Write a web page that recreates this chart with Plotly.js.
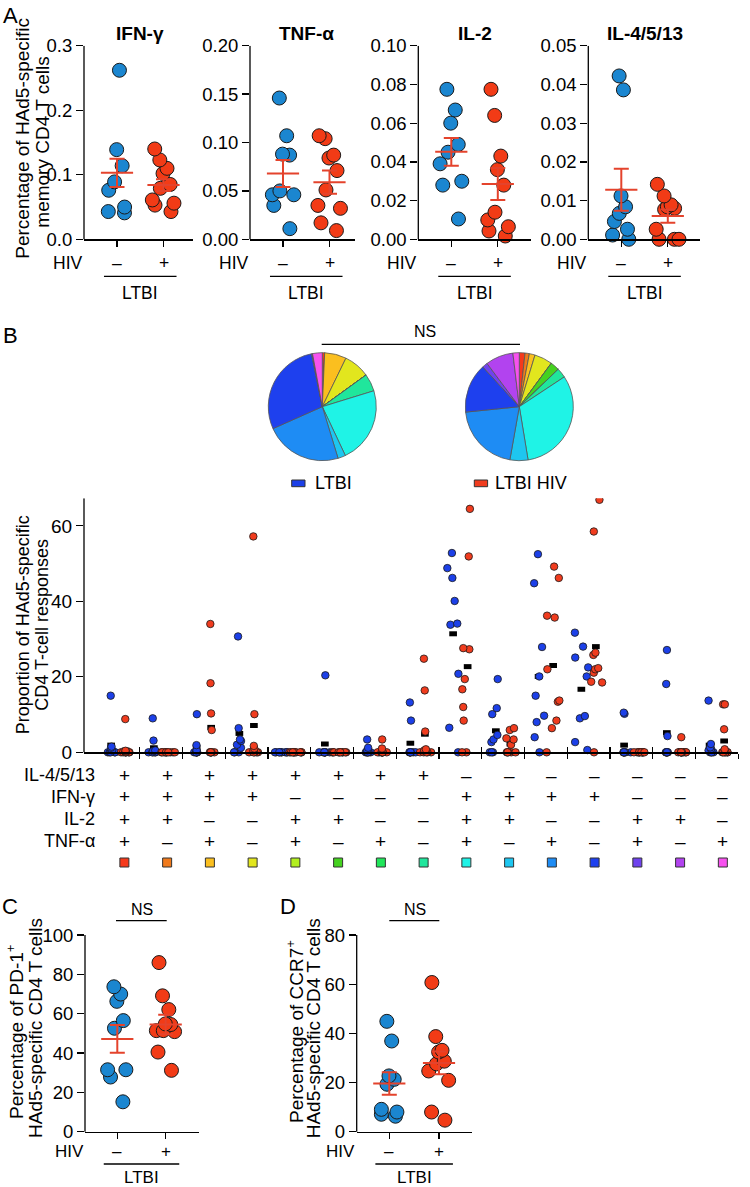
<!DOCTYPE html>
<html><head><meta charset="utf-8">
<script src="https://cdn.plot.ly/plotly-3.0.1.min.js"></script>
<style>html,body{margin:0;padding:0;background:#fff}#chart{width:750px;height:1187px}</style>
</head><body><div id="chart"></div>
<script>
// ================= DATA =================
const groupLabels = ['–', '+'];
const cytokines = ['IFN-γ', 'TNF-α', 'IL-2', 'IL-4/5/13'];

// Panel A (percentage of HAd5-specific memory CD4 T cells)
const ifnNeg = [0.262, 0.139, 0.114, 0.089, 0.076, 0.050, 0.041, 0.043];
const ifnPos = [0.140, 0.123, 0.110, 0.102, 0.085, 0.079, 0.061, 0.056, 0.053, 0.043];
const ifnMean = [0.103, 0.084];
const ifnSem = [0.022, 0.009];

const tnfNeg = [0.146, 0.107, 0.087, 0.088, 0.050, 0.046, 0.046, 0.035, 0.011];
const tnfPos = [0.107, 0.104, 0.087, 0.084, 0.071, 0.051, 0.035, 0.032, 0.017, 0.009];
const tnfMean = [0.068, 0.059];
const tnfSem = [0.014, 0.012];

const il2Neg = [0.0775, 0.0668, 0.060, 0.049, 0.045, 0.039, 0.030, 0.028, 0.0105];
const il2Pos = [0.0775, 0.064, 0.043, 0.036, 0.028, 0.014, 0.010, 0.0065, 0.0043, 0.0017];
const il2Mean = [0.0452, 0.0286];
const il2Sem = [0.0072, 0.0083];

const il4Neg = [0.0422, 0.0386, 0.0112, 0.0084, 0.0067, 0.0046, 0.0026, 0.0011, 0.0];
const il4Pos = [0.0142, 0.0112, 0.0089, 0.0084, 0.0080, 0.0077, 0.0026, 0, 0, 0];
const il4Mean = [0.0128, 0.0060];
const il4Sem = [0.0054, 0.0017];

// Panel B: cytokine combinations (1 = +, 0 = –)
const rowNames = ['IL-4/5/13', 'IFN-γ', 'IL-2', 'TNF-α'];
const il4Row = [1,1,1,1,1,1,1,1,0,0,0,0,0,0,0];
const ifnRow = [1,1,1,1,0,0,0,0,1,1,1,1,0,0,0];
const il2Row = [1,1,0,0,1,1,0,0,1,1,0,0,1,1,0];
const tnfRow = [1,0,1,0,1,0,1,0,1,0,1,0,1,0,1];
const comboColors = ['#f5391b','#f07a1c','#fbbf1f','#e2e61e','#b2ef1f','#45d220','#20e65a','#20e69c',
                     '#1ff3e6','#1ec6f0','#1e8cf4','#1e40ee','#6f42ee','#b243ef','#f752ef'];

const ltbiB = [
  [15.0, 1.5, 1.2, 0.5, 0, 0, 0, 0, 0],
  [9.0, 3.1, 0.5, 0.3, 0, 0, 0, 0, 0],
  [10.1, 1.9, 0.5, 0, 0, 0, 0, 0, 0],
  [30.7, 6.4, 3.4, 3.0, 2.0, 1.2, 0, 0, 0],
  [0, 0, 0, 0, 0, 0, 0, 0, 0],
  [20.4, 0, 0, 0, 0, 0, 0, 0, 0],
  [3.4, 1.2, 0.5, 0, 0, 0, 0, 0, 0],
  [13.2, 8.4, 0, 0, 0, 0, 0, 0, 0],
  [52.8, 48.8, 46.2, 40.1, 34.1, 33.8, 20.8, 6.5, 0],
  [19.4, 11.7, 10.1, 4.6, 3.4, 2.7, 0, 0, 0],
  [52.5, 44.8, 27.9, 20.1, 15.0, 9.7, 8.0, 4.0, 0],
  [31.7, 28.0, 25.1, 22.5, 20.1, 9.6, 9.0, 2.7, 0.6],
  [10.5, 10.2, 0, 0, 0, 0, 0, 0, 0],
  [27.1, 18.1, 4.3, 0, 0, 0, 0, 0, 0],
  [13.7, 2.2, 1.3, 0.9, 0.5, 0, 0, 0, 0]
];
const hivB = [
  [8.8, 0.4, 0.2, 0, 0, 0, 0, 0, 0, 0],
  [0, 0, 0, 0, 0, 0, 0, 0, 0, 0],
  [34.0, 18.3, 10.3, 5.9, 0, 0, 0, 0, 0, 0],
  [57.2, 10.1, 1.7, 1.0, 0.5, 0, 0, 0, 0, 0],
  [0, 0, 0, 0, 0, 0, 0, 0, 0, 0],
  [0, 0, 0, 0, 0, 0, 0, 0, 0, 0],
  [3.4, 1.0, 0, 0, 0, 0, 0, 0, 0, 0],
  [24.8, 16.4, 5.5, 0.8, 0.5, 0, 0, 0, 0, 0],
  [64.5, 51.9, 27.6, 27.3, 19.4, 16.7, 12.0, 8.4, 0, 0],
  [6.4, 5.9, 3.7, 3.4, 2.0, 0, 0, 0, 0, 0],
  [49.2, 46.2, 36.2, 35.7, 22.0, 13.7, 13.4, 8.4, 6.4, 0],
  [66.9, 58.5, 26.4, 25.8, 22.3, 22.0, 21.1, 18.7, 18.5, 0],
  [0, 0, 0, 0, 0, 0, 0, 0, 0, 0],
  [4.0, 0, 0, 0, 0, 0, 0, 0, 0, 0],
  [12.7, 12.7, 6.1, 0.8, 0, 0, 0, 0, 0, 0]
];
const ltbiBMean = [1.9, 1.2, 1.2, 5.0, 0, 2.2, 0.3, 2.4, 31.4, 5.7, 20.1, 16.7, 1.9, 5.2, 1.9];
const hivBMean  = [0.6, 0, 6.6, 7.1, 0, 0, 0.4, 4.8, 22.7, 2.2, 23.0, 28.0, 0, 0.4, 3.0];

// Pie fractions (%)
const ltbiPie = [0.7, 0, 6.5, 7.8, 0, 0, 0, 5.2, 22.7, 2.3, 23.0, 28.4, 0.3, 0, 2.9];
const hivPie  = [1.7, 1.3, 1.7, 5.4, 0, 2.7, 0, 2.9, 31.7, 5.4, 20.6, 14.8, 1.6, 8.3, 1.9];
const pieNames = ['LTBI', 'LTBI HIV'];

// Panel C (PD-1+) and D (CCR7+)
const pd1Neg = [73.7, 70.0, 66.3, 56.5, 52.6, 31.5, 31.5, 27.8, 15.2];
const pd1Pos = [86.0, 69.1, 62.1, 54.8, 54.5, 51.4, 50.9, 51.4, 40.5, 31.2];
const pd1Mean = [47.2, 54.5];
const pd1Sem = [7.0, 5.0];

const ccr7Neg = [44.9, 36.9, 22.7, 21.3, 19.3, 9.1, 8.0, 7.1, 6.3];
const ccr7Pos = [60.7, 38.7, 33.1, 32.4, 28.7, 27.6, 24.7, 20.9, 8.0, 4.7];
const ccr7Mean = [19.6, 28.0];
const ccr7Sem = [4.6, 4.6];

// ================= DRAWING =================
const W = 750, H = 1187;
const fx = p => p / W;
const fy = p => 1 - p / H;
const FONT = 'Liberation Sans, Arial, Helvetica, sans-serif';
const BLUE_A = '#1b86d0', RED_A = '#f23b16', BLUE_B = '#1c40e8', RED_B = '#f03c1e', ERR = '#e4432c';

const traces = [], shapes = [], annotations = [];
const layout = {
  width: W, height: H, margin: {l: 0, r: 0, t: 0, b: 0},
  paper_bgcolor: '#ffffff', plot_bgcolor: 'rgba(0,0,0,0)', showlegend: false,
  font: {family: FONT, size: 18, color: '#000'}, hovermode: false
};

function txt(x, y, text, size, opts) {
  annotations.push(Object.assign({
    x: x, y: y, xref: 'paper', yref: 'paper', text: text, showarrow: false,
    font: {family: FONT, size: size, color: '#000'}, xanchor: 'center', yanchor: 'middle'
  }, opts || {}));
}
function pline(x0, x1, y, w) {
  shapes.push({type: 'line', xref: 'paper', yref: 'paper', x0: fx(x0), x1: fx(x1), y0: fy(y), y1: fy(y),
    line: {color: '#000', width: w || 1.3}});
}
function axId(n) { return n === 1 ? '' : String(n); }

function dotPanel(n, cfg, neg, pos, mean, sem) {
  const id = axId(n), xs = 'x' + id, ys = 'y' + id;
  const ppu = (cfg.zero - cfg.top) / cfg.ymax;
  const xmin = -cfg.cat0 / cfg.catStep;
  const xmax = (cfg.right - cfg.left - cfg.cat0) / cfg.catStep;
  const tv = [];
  for (let k = 0; k * cfg.dtick <= cfg.ymax * 1.0001; k++) tv.push(+(k * cfg.dtick).toFixed(6));
  layout['xaxis' + id] = {
    type: 'linear', domain: [fx(cfg.left), fx(cfg.right)], range: [xmin, xmax],
    anchor: 'free', position: fy(cfg.zero), showline: true, linecolor: '#000', linewidth: 1.3,
    ticks: 'outside', ticklen: 6, tickwidth: 1.3, tickcolor: '#000', tickmode: 'array', tickvals: [0, 1],
    showticklabels: false, showgrid: false, zeroline: false, fixedrange: true
  };
  layout['yaxis' + id] = {
    type: 'linear', domain: [fy(cfg.zero + cfg.below), fy(cfg.top)],
    range: [-cfg.below / ppu, cfg.ymax * 1.0003], anchor: xs, showline: false,
    ticks: 'outside', ticklen: 7, tickwidth: 1.3, tickcolor: '#000',
    tickmode: 'array', tickvals: tv, ticktext: tv.map(v => v.toFixed(cfg.dec)),
    tickfont: {family: FONT, size: cfg.tickSize, color: '#000'},
    showgrid: false, zeroline: false, fixedrange: true
  };
  shapes.push({type: 'line', xref: xs + ' domain', yref: ys, x0: 0, x1: 0, y0: 0, y1: cfg.ymax,
    line: {color: '#000', width: 1.3}});
  [neg, pos].forEach((vals, g) => traces.push({
    type: 'box', name: groupLabels[g], x0: g, y: vals, xaxis: xs, yaxis: ys,
    boxpoints: 'all', jitter: 1, pointpos: 0, width: cfg.boxW, whiskerwidth: 0,
    line: {width: 0, color: 'rgba(0,0,0,0)'}, fillcolor: 'rgba(0,0,0,0)',
    marker: {color: cfg.colors[g], size: cfg.ms, line: {color: '#1a1a1a', width: 1}}
  }));
  traces.push({
    type: 'scatter', mode: 'markers', x: [0, 1], y: mean, xaxis: xs, yaxis: ys, cliponaxis: false,
    marker: {symbol: 'line-ew', size: 23, color: ERR, line: {color: ERR, width: 2}},
    error_y: {type: 'data', array: sem, visible: true, color: ERR, thickness: 2, width: 7.5}
  });
  // HIV / – / + / LTBI labels
  txt(fx(cfg.left - 16), fy(cfg.zero + cfg.hivDy), 'HIV', cfg.labSize);
  groupLabels.forEach((t, g) => annotations.push({
    x: g, y: fy(cfg.zero + cfg.hivDy), xref: xs, yref: 'paper', text: t, showarrow: false,
    font: {family: FONT, size: cfg.labSize, color: '#000'}, xanchor: 'center', yanchor: 'middle'
  }));
  shapes.push({type: 'line', xref: xs, yref: 'paper', x0: -0.28, x1: 1.28,
    y0: fy(cfg.zero + cfg.lineDy), y1: fy(cfg.zero + cfg.lineDy), line: {color: '#000', width: 1.3}});
  annotations.push({x: 0.5, y: fy(cfg.zero + cfg.ltbiDy), xref: xs, yref: 'paper', text: 'LTBI',
    showarrow: false, font: {family: FONT, size: cfg.labSize, color: '#000'}, xanchor: 'center', yanchor: 'middle'});
}

// ---- Panel A ----
const aBase = {zero: 239.3, top: 45.7, cat0: 33, catStep: 46.5, below: 9, boxW: 0.62, ms: 14,
  colors: [BLUE_A, RED_A], tickSize: 18.5, labSize: 17.5, hivDy: 24, lineDy: 37, ltbiDy: 54};
const aSets = [
  [ifnNeg, ifnPos, ifnMean, ifnSem, {left: 84, right: 193, ymax: 0.3, dtick: 0.1, dec: 1}],
  [tnfNeg, tnfPos, tnfMean, tnfSem, {left: 250, right: 355, ymax: 0.2, dtick: 0.05, dec: 2}],
  [il2Neg, il2Pos, il2Mean, il2Sem, {left: 418.3, right: 531, ymax: 0.1, dtick: 0.02, dec: 2}],
  [il4Neg, il4Pos, il4Mean, il4Sem, {left: 588.3, right: 700, ymax: 0.05, dtick: 0.01, dec: 2}]
];
aSets.forEach((s, i) => {
  const cfg = Object.assign({}, aBase, s[4]);
  dotPanel(i + 1, cfg, s[0], s[1], s[2], s[3]);
  annotations.push({x: 0.5, y: fy(33), xref: 'x' + axId(i + 1), yref: 'paper', text: '<b>' + cytokines[i] + '</b>',
    showarrow: false, font: {family: FONT, size: 19, color: '#000'}, xanchor: 'center', yanchor: 'middle'});
});
txt(fx(21.7), fy(138), 'Percentage of HAd5-specific', 19, {textangle: -90});
txt(fx(41.7), fy(142), 'memory CD4 T cells', 19, {textangle: -90});
txt(fx(10), fy(15), 'A', 22);

// ---- Panel B ----
const catPos = il4Row.map((_, i) => i + 1);
const bLeft = 84, bRight = 738.3, bZero = 752.3, bTop = 498.3, bYmax = 67.3, bCat0 = 118.4, bStep = 42.75, bBelow = 6;
const bppu = (bZero - bTop) / bYmax;
const bRange = [1 - (bCat0 - bLeft) / bStep, 1 + (bRight - bCat0) / bStep + 0.001];
const bBounds = catPos.map(c => c + 0.5);
const bOff = 0.17;
layout.xaxis5 = {type: 'linear', domain: [fx(bLeft), fx(bRight)], range: bRange, anchor: 'free', position: fy(bZero),
  showline: true, linecolor: '#000', linewidth: 1.3, ticks: 'outside', ticklen: 5, tickwidth: 1.3, tickcolor: '#000',
  tickmode: 'array', tickvals: bBounds, showticklabels: false, showgrid: false, zeroline: false, fixedrange: true};
layout.xaxis6 = {type: 'linear', overlaying: 'x5', domain: [fx(bLeft), fx(bRight)], range: bRange, anchor: 'free',
  position: fy(bZero), showline: false, ticks: 'inside', ticklen: 5, tickwidth: 1.3, tickcolor: '#000',
  tickmode: 'array', tickvals: bBounds, showticklabels: false, showgrid: false, zeroline: false, fixedrange: true};
layout.yaxis5 = {type: 'linear', domain: [fy(bZero + bBelow), fy(bTop)], range: [-bBelow / bppu, bYmax], anchor: 'x5',
  showline: false, ticks: 'outside', ticklen: 7, tickwidth: 1.3, tickcolor: '#000', tickmode: 'array',
  tickvals: [0, 20, 40, 60], tickfont: {family: FONT, size: 19, color: '#000'},
  showgrid: false, zeroline: false, fixedrange: true};
shapes.push({type: 'line', xref: 'x5 domain', yref: 'y5', x0: 0, x1: 0, y0: 0, y1: bYmax, line: {color: '#000', width: 1.3}});

// mean markers (under the points)
[[ltbiBMean, -bOff], [hivBMean, bOff]].forEach(([m, off]) => traces.push({
  type: 'scatter', mode: 'markers', x: catPos.map(c => c + off), y: m, xaxis: 'x5', yaxis: 'y5', cliponaxis: false,
  marker: {symbol: 'line-ew', size: 5.5, color: '#000', line: {color: '#000', width: 5}}
}));
// individual points
[[ltbiB, -bOff, BLUE_B, pieNames[0]], [hivB, bOff, RED_B, pieNames[1]]].forEach(([set, off, col, nm]) => {
  const xs = [], ys = [];
  set.forEach((vals, i) => vals.forEach(v => { xs.push(catPos[i] + off); ys.push(v); }));
  traces.push({type: 'box', name: nm, x: xs, y: ys, xaxis: 'x6', yaxis: 'y5', boxpoints: 'all', jitter: 1,
    pointpos: 0, width: 0.34, whiskerwidth: 0, line: {width: 0, color: 'rgba(0,0,0,0)'}, fillcolor: 'rgba(0,0,0,0)',
    marker: {color: col, size: 7.5, line: {color: '#1a1a1a', width: 0.8}}});
});

// combination table
const rows = [il4Row, ifnRow, il2Row, tnfRow];
const rowY = [775, 796.7, 819, 841];
rows.forEach((r, ri) => {
  txt(fx(97), fy(rowY[ri]), rowNames[ri], 18, {xanchor: 'right'});
  r.forEach((v, ci) => annotations.push({x: catPos[ci] + 0.14, y: fy(rowY[ri]), xref: 'x5', yref: 'paper',
    text: v ? '+' : '–', showarrow: false, font: {family: FONT, size: 19, color: '#000'},
    xanchor: 'center', yanchor: 'middle'}));
});
layout.xaxis7 = {domain: [fx(bLeft), fx(bRight)], range: bRange, visible: false, fixedrange: true};
layout.yaxis7 = {domain: [fy(872), fy(853)], range: [-1, 1], visible: false, fixedrange: true, anchor: 'x7'};
traces.push({type: 'scatter', mode: 'markers', x: catPos.map(c => c + 0.14), y: catPos.map(() => 0),
  xaxis: 'x7', yaxis: 'y7', cliponaxis: false,
  marker: {symbol: 'square', size: 9, color: comboColors, line: {color: '#333', width: 1}}});

// pies
const comboLabels = catPos.map((c, i) => rows.map((r, ri) => rowNames[ri] + (r[i] ? '+' : '–')).join(' '));
[[ltbiPie, 322.3], [hivPie, 519.3]].forEach(([vals, cx]) => traces.push({
  type: 'pie', values: vals, labels: comboLabels, sort: false, direction: 'clockwise', rotation: 0,
  textinfo: 'none', marker: {colors: comboColors, line: {color: '#555', width: 0.8}},
  domain: {x: [fx(cx - 54), fx(cx + 54)], y: [fy(406.7 + 54), fy(406.7 - 54)]}, showlegend: false
}));
txt(fx(425), fy(331.7), 'NS', 16);
pline(321.7, 520, 344.3, 1.3);
shapes.push({type: 'rect', xref: 'paper', yref: 'paper', x0: fx(291.7), x1: fx(305), y0: fy(486.7), y1: fy(480),
  fillcolor: BLUE_B, line: {color: '#333', width: 1}});
shapes.push({type: 'rect', xref: 'paper', yref: 'paper', x0: fx(474.3), x1: fx(487.6), y0: fy(486.7), y1: fy(480),
  fillcolor: RED_B, line: {color: '#333', width: 1}});
txt(fx(313), fy(483.3), pieNames[0], 18, {xanchor: 'left'});
txt(fx(493), fy(483.3), pieNames[1], 18, {xanchor: 'left'});

txt(fx(23.3), fy(625), 'Proportion of HAd5-specific', 18, {textangle: -90});
txt(fx(41.7), fy(625), 'CD4 T-cell responses', 18, {textangle: -90});
txt(fx(10), fy(335), 'B', 22);

// ---- Panels C and D ----
const cdBase = {zero: 1131.7, top: 935, below: 9, boxW: 0.5, ms: 14, colors: [BLUE_A, RED_A],
  tickSize: 18.5, labSize: 17, hivDy: 20, lineDy: 32.3, ltbiDy: 45.5, dtick: 20, dec: 0};
dotPanel(8, Object.assign({}, cdBase, {left: 85, right: 199.3, ymax: 100, cat0: 32.3, catStep: 48.4}),
  pd1Neg, pd1Pos, pd1Mean, pd1Sem);
dotPanel(9, Object.assign({}, cdBase, {left: 356.7, right: 472.3, ymax: 80, cat0: 32.6, catStep: 49.7}),
  ccr7Neg, ccr7Pos, ccr7Mean, ccr7Sem);

txt(fx(15), fy(1032), 'Percentage of PD-1<sup>+</sup>', 19, {textangle: -90});
txt(fx(35), fy(1028), 'HAd5-specific CD4 T cells', 19, {textangle: -90});
txt(fx(295), fy(1032), 'Percentage of CCR7<sup>+</sup>', 19, {textangle: -90});
txt(fx(313.3), fy(1028), 'HAd5-specific CD4 T cells', 19, {textangle: -90});
txt(fx(10), fy(906.7), 'C', 22);
txt(fx(288), fy(906.7), 'D', 22);
txt(fx(141.7), fy(909), 'NS', 16);
pline(116, 166.7, 920.7, 1.3);
txt(fx(415), fy(909), 'NS', 16);
pline(389.3, 439.3, 920.7, 1.3);

layout.shapes = shapes;
layout.annotations = annotations;
Plotly.newPlot('chart', traces, layout, {staticPlot: true, displayModeBar: false});
</script>
</body></html>
